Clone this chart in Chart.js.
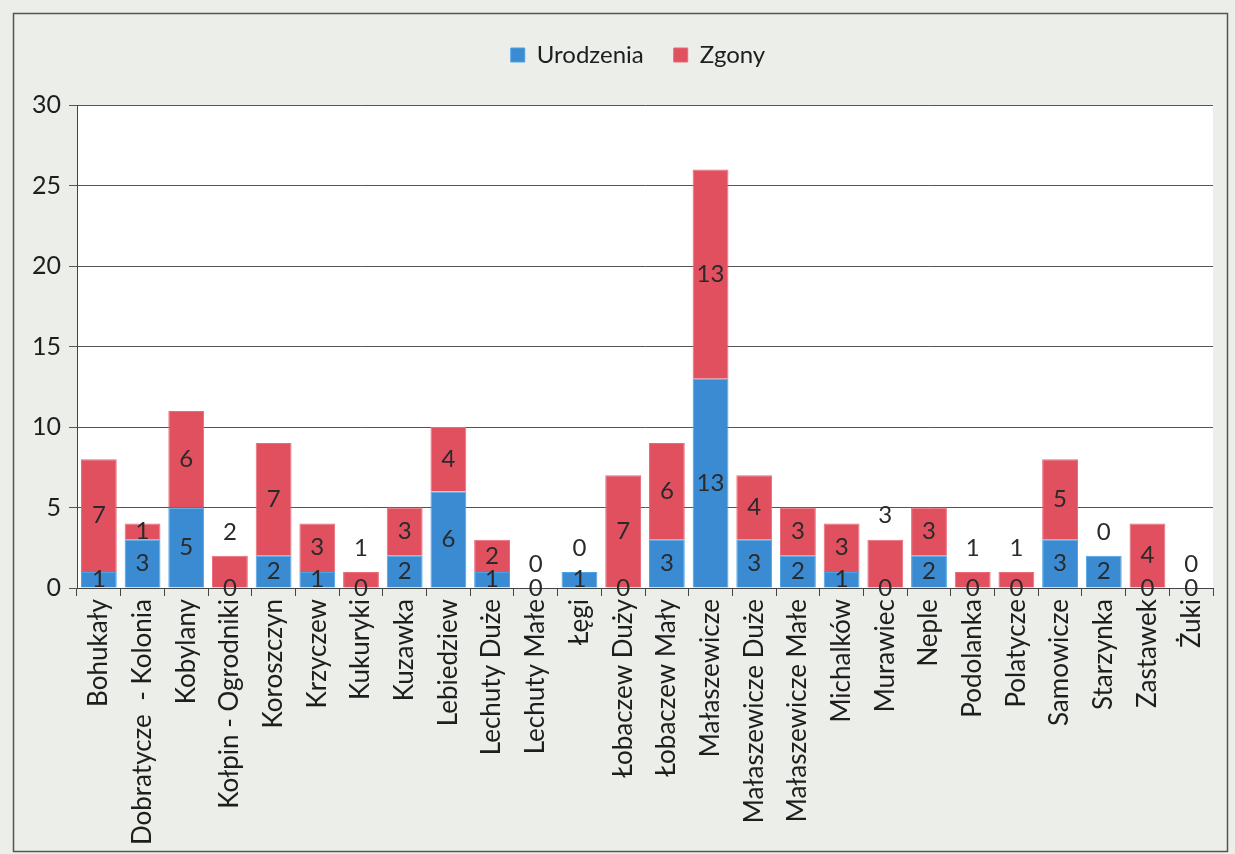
<!DOCTYPE html>
<html>
<head>
<meta charset="utf-8">
<script src="https://cdn.jsdelivr.net/npm/chart.js@4.4.0/dist/chart.umd.min.js"></script>
<style>
  html, body { margin: 0; padding: 0; background: #fff; }
  #wrap { width: 1235px; height: 854px; }
</style>
</head>
<body>
<div id="wrap"><canvas id="chart" width="1235" height="854"></canvas></div>
<script>
// categories and values
const categories = [
  'Bohukały', 'Dobratycze  - Kolonia', 'Kobylany', 'Kołpin - Ogrodniki', 'Koroszczyn',
  'Krzyczew', 'Kukuryki', 'Kuzawka', 'Lebiedziew', 'Lechuty Duże', 'Lechuty Małe',
  'Łęgi', 'Łobaczew Duży', 'Łobaczew Mały', 'Małaszewicze', 'Małaszewicze Duże',
  'Małaszewicze Małe', 'Michalków', 'Murawiec', 'Neple', 'Podolanka', 'Polatycze',
  'Samowicze', 'Starzynka', 'Zastawek', 'Żuki'
];
const births = [1, 3, 5, 0, 2, 1, 0, 2, 6, 1, 0, 1, 0, 3, 13, 3, 2, 1, 0, 2, 0, 0, 3, 2, 0, 0];
const deaths = [7, 1, 6, 2, 7, 3, 1, 3, 4, 2, 0, 0, 7, 6, 13, 4, 3, 3, 3, 3, 1, 1, 5, 0, 4, 0];
const yTicks = [0, 5, 10, 15, 20, 25, 30];

const FONT = 'Lato, "Open Sans", sans-serif';

// grey chart background, white plot area, outer frame
const background = {
  id: 'background',
  beforeDraw(chart) {
    const { ctx, chartArea: a } = chart;
    ctx.save();
    ctx.fillStyle = '#eceeea';
    ctx.fillRect(0, 0, chart.width, chart.height);
    ctx.fillStyle = '#ffffff';
    ctx.fillRect(a.left, a.top, a.right - a.left, a.bottom - a.top);
    ctx.strokeStyle = '#555';
    ctx.lineWidth = 1.5;
    ctx.strokeRect(13.5, 13.5, 1214, 838);
    ctx.restore();
  }
};

// extra space under the legend, legend nudged right a bit
const legendMargin = {
  id: 'legendMargin',
  beforeInit(chart) {
    const fit = chart.legend.fit;
    chart.legend.fit = function () {
      fit.bind(chart.legend)();
      this.height += 28;
    };
  },
  afterLayout(chart) {
    chart.legend.left += 24;
    chart.legend.right += 24;
  }
};

// value labels on the segments
const valueLabels = {
  id: 'valueLabels',
  afterDatasetsDraw(chart) {
    const ctx = chart.ctx;
    const mb = chart.getDatasetMeta(0);
    const md = chart.getDatasetMeta(1);
    ctx.save();
    ctx.font = '24px ' + FONT;
    ctx.fillStyle = '#2a2a2a';
    ctx.textAlign = 'center';
    ctx.textBaseline = 'middle';
    births.forEach((v, i) => {
      const el = mb.data[i];
      ctx.fillText(String(v), el.x, (el.y + el.base) / 2);
    });
    deaths.forEach((v, i) => {
      const el = md.data[i];
      const outside = v === 0 || (births[i] === 0 && v <= 3);
      const y = outside ? el.y - 24 : (el.y + el.base) / 2;
      ctx.fillText(String(v), el.x, y);
    });
    ctx.restore();
  }
};

new Chart(document.getElementById('chart').getContext('2d'), {
  type: 'bar',
  data: {
    labels: categories,
    datasets: [
      {
        label: 'Urodzenia',
        data: births,
        backgroundColor: '#3b8bd3',
        borderColor: '#4aa3e4',
        borderWidth: 1
      },
      {
        label: 'Zgony',
        data: deaths,
        backgroundColor: '#e0505f',
        borderColor: '#ea6a78',
        borderWidth: 1
      }
    ]
  },
  options: {
    responsive: false,
    animation: false,
    layout: { padding: { left: 15, right: 22, top: 13, bottom: 2 } },
    datasets: { bar: { barPercentage: 0.82, categoryPercentage: 1 } },
    plugins: {
      tooltip: { enabled: false },
      legend: {
        position: 'top',
        labels: {
          boxWidth: 14,
          boxHeight: 14,
          padding: 30,
          color: '#1e1e1e',
          font: { family: FONT, size: 24 }
        }
      }
    },
    scales: {
      x: {
        stacked: true,
        afterFit(scale) { scale.height = 264; },
        grid: {
          offset: true,
          drawOnChartArea: false,
          tickLength: 8,
          color: '#444'
        },
        border: { color: '#444', width: 1 },
        ticks: {
          autoSkip: false,
          minRotation: 90,
          maxRotation: 90,
          color: '#1e1e1e',
          font: { family: FONT, size: 26 }
        }
      },
      y: {
        stacked: true,
        min: 0,
        max: 30,
        afterFit(scale) { scale.width = 62; },
        afterBuildTicks(scale) { scale.ticks = yTicks.map(v => ({ value: v })); },
        grid: { color: '#555', lineWidth: 1, tickLength: 8 },
        border: { color: '#444', width: 1 },
        ticks: {
          color: '#1e1e1e',
          padding: 8,
          font: { family: FONT, size: 25 }
        }
      }
    }
  },
  plugins: [background, legendMargin, valueLabels]
});
</script>
</body>
</html>
